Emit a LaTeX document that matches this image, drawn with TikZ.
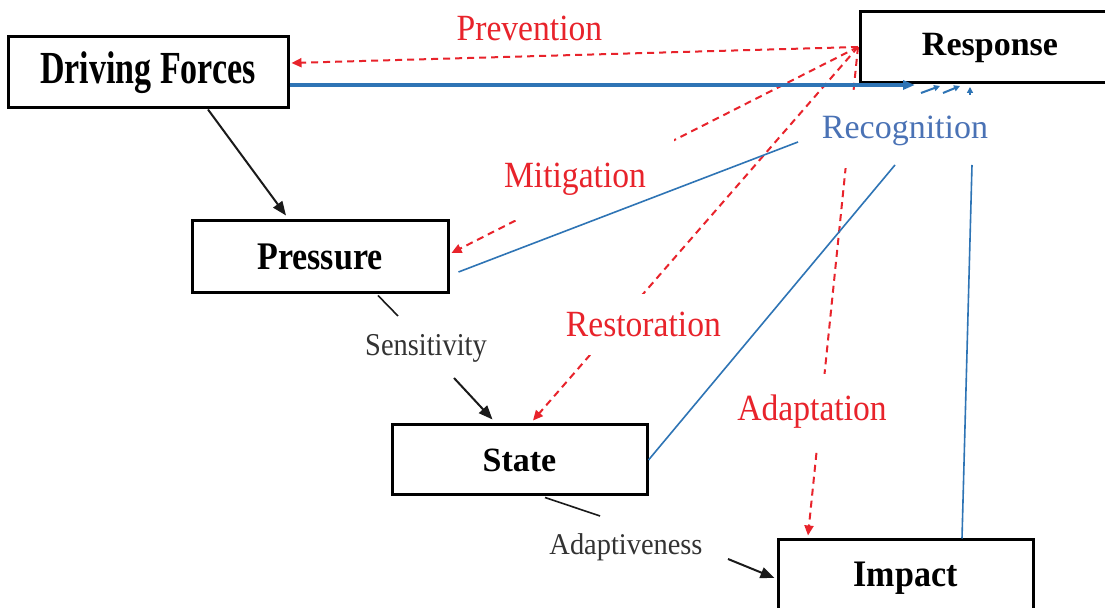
\documentclass[tikz,border=0pt]{standalone}
\usepackage{fontspec}
\setmainfont{Liberation Serif}
\usetikzlibrary{arrows.meta,calc,positioning}
\definecolor{dpRed}{HTML}{E8232B}
\definecolor{dpBlue}{HTML}{2E74B5}
\definecolor{dpSteel}{HTML}{4A72B5}
\definecolor{dpInk}{HTML}{1A1A1A}
\definecolor{dpGray}{HTML}{333333}
\tikzset{
 dpsir/.style={line cap=butt,line join=miter},
 box/.style={rectangle,draw=black,fill=white,line width=1.5pt,inner sep=0pt,
   font=\fontsize{17}{20}\selectfont\bfseries},
 redlbl/.style={font=\fontsize{16.8}{20}\selectfont,text=dpRed},
 gaplbl/.style={redlbl,fill=white},
 inlbl/.style={font=\fontsize{14.2}{17}\selectfont,text=dpGray,inner sep=1pt},
 reclbl/.style={font=\fontsize{17}{20}\selectfont,text=dpSteel,fill=white,inner xsep=2pt,inner ysep=11pt},
 cause/.style={draw=dpInk,line width=1pt,-{Triangle[length=7pt,width=5.5pt]}},
 tie/.style={draw=dpInk,line width=.8pt},
 action/.style={draw=dpRed,line width=1pt,dash pattern=on 3.5pt off 2.5pt,-{Triangle[length=5pt,width=4.5pt]}},
 link/.style={draw=dpBlue,line width=.8pt},
 mainflow/.style={draw=dpBlue,line width=1.6pt,-{Triangle[length=6pt,width=4.5pt]}},
 stub/.style={draw=dpBlue,line width=1pt,-{Triangle[length=3pt,width=3pt]}}
}
\newcommand{\vstretch}[2]{\scalebox{1}[#1]{#2}}

\begin{document}
\begin{tikzpicture}[dpsir,x=.5pt,y=-.5pt]
 \clip (0,0) rectangle (1105,608);
 \fill[white] (0,0) rectangle (1105,608);
 \node[box,minimum width=140pt,minimum height=35.5pt] (drv) at (148,72.5) {\vstretch{1.35}{Driving Forces}};
 \node[box,minimum width=130pt,minimum height=35.5pt] (resp) at (990,47.5) {Response};
 \node[box,minimum width=128pt,minimum height=36pt] (prs) at (320,257) {\vstretch{1.15}{Pressure}};
 \node[box,minimum width=127.5pt,minimum height=35pt] (stt) at (519.5,460) {State};
 \node[box,minimum width=127.5pt,minimum height=38pt] (imp) at (905.5,578) {\vstretch{1.1}{Impact}};
 \node[inlbl] (sens) at (426,348) {\vstretch{1.12}{Sensitivity}};
 \node[inlbl] (adp) at (626,547) {\vstretch{1.06}{Adaptiveness}};
 \coordinate (rc) at (858,47);
 \coordinate (rtip) at (915,85);
 \draw[action] (rc) -- node[redlbl,pos=.58,yshift=14pt] {\vstretch{1.1}{Prevention}} ($(drv.east)+(2,-9.5)$);
 \draw[action] (rc) -- node[gaplbl,pos=.642,xshift=-11pt,inner xsep=14pt,inner ysep=12.5pt] {\vstretch{1.1}{Mitigation}} ($(prs.east)+(2,-4)$);
 \draw[action] (rc) -- node[gaplbl,pos=.728,xshift=11pt,yshift=-3pt,inner xsep=2pt,inner ysep=9pt] {\vstretch{1.1}{Restoration}} ($(stt.north)+(13.5,-3)$);
 \draw[action] (rc) -- node[gaplbl,pos=.747,xshift=-4.3pt,inner xsep=2pt,inner ysep=10.5pt] {\vstretch{1.1}{Adaptation}} ($(imp.north)+(-97.5,-3)$);
 \node[reclbl] (rec) at (905,131) {Recognition};
 \coordinate (recA) at ($(rec.center)+(-107,11)$);
 \coordinate (recB) at ($(rec.center)+(-10,34)$);
 \coordinate (recC) at ($(rec.center)+(67,34)$);
 \draw[mainflow] ($(drv.east)+(0,12.5)$) -- (rtip);
 \draw[link] ($(prs.east)+(9,15)$) -- (recA);
 \draw[link] (stt.east) -- (recB);
 \draw[link] ($(imp.north)+(56.5,0)$) -- (recC);
 \foreach \sx/\sy/\ex/\ey in {6/8/25/1, 28/8/45/1, 55/10/55/2}
   \draw[stub] ($(rtip)+(\sx,\sy)$) -- ($(rtip)+(\ex,\ey)$);
 \draw[cause] ($(drv.south)+(60,0)$) -- ($(prs.north)+(-34,-4)$);
 \draw[tie] ($(prs.south)+(58,1)$) -- ($(sens.center)+(-28,-32)$);
 \draw[cause] ($(sens.center)+(28,30)$) -- ($(stt.north)+(-27,-4)$);
 \draw[tie] ($(stt.south)+(25.5,1)$) -- ($(adp.center)+(-26,-31)$);
 \draw[cause] ($(adp.center)+(102,12)$) -- ($(imp.west)+(-2,0)$);
\end{tikzpicture}
\end{document}
